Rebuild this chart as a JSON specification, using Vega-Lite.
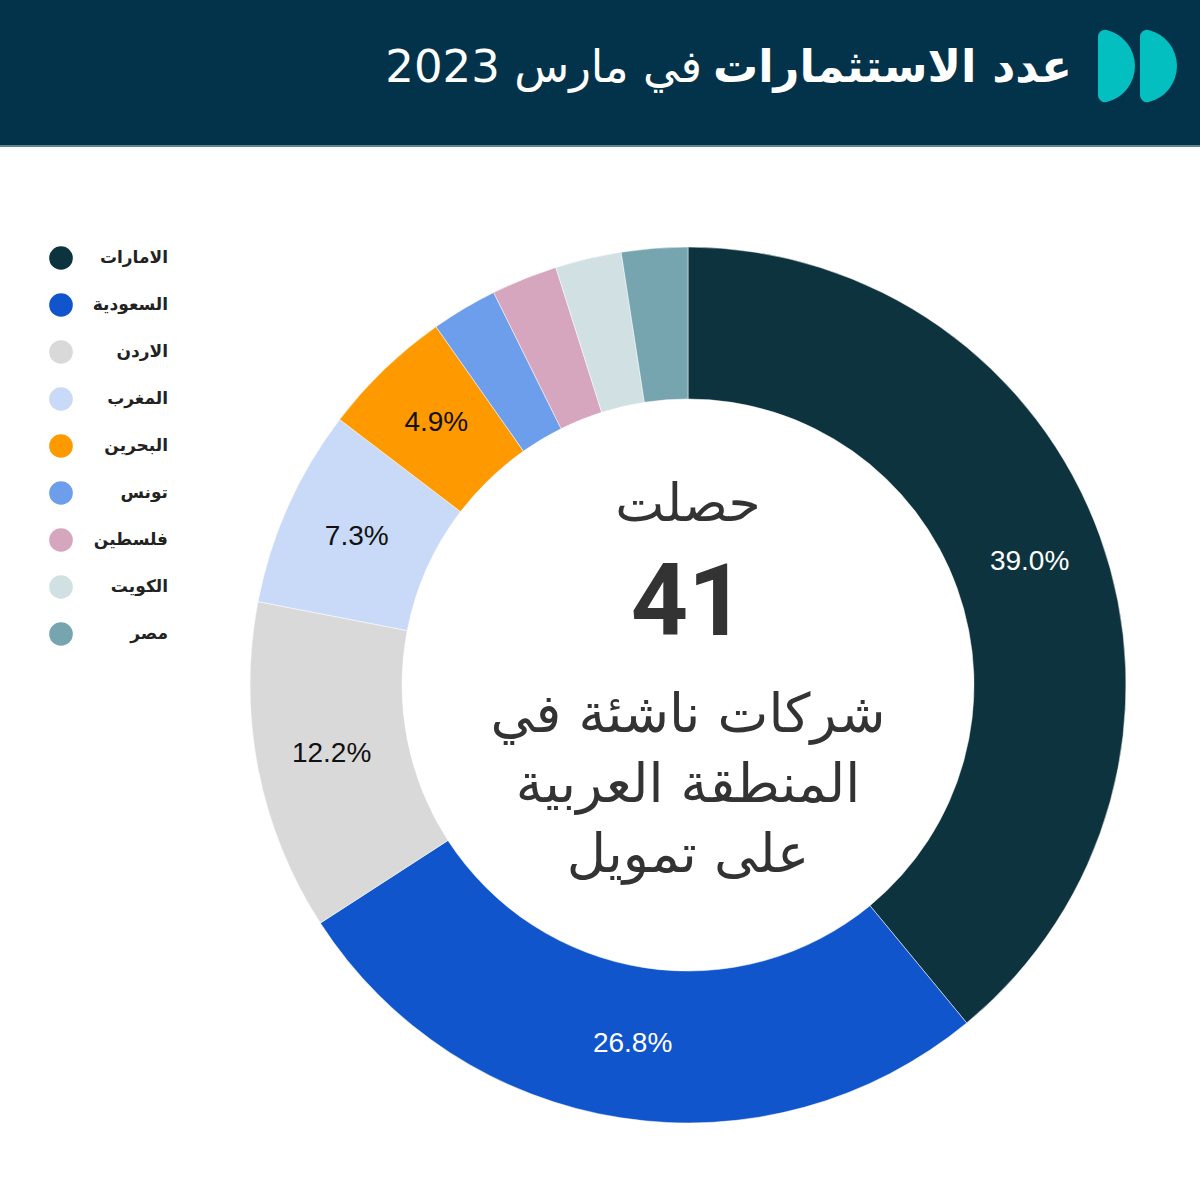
{
  "$schema": "https://vega.github.io/schema/vega-lite/v6.json",
  "width": 1200,
  "height": 1200,
  "autosize": {"type": "fit", "contains": "padding"},
  "padding": 0,
  "background": "#ffffff",
  "config": {"view": {"stroke": null}},
  "data": {
    "values": [
      {"country": "الامارات", "count": 16, "order": 1, "label": "39.0%"},
      {"country": "السعودية", "count": 11, "order": 2, "label": "26.8%"},
      {"country": "الاردن", "count": 5, "order": 3, "label": "12.2%"},
      {"country": "المغرب", "count": 3, "order": 4, "label": "7.3%"},
      {"country": "البحرين", "count": 2, "order": 5, "label": "4.9%"},
      {"country": "تونس", "count": 1, "order": 6, "label": ""},
      {"country": "فلسطين", "count": 1, "order": 7, "label": ""},
      {"country": "الكويت", "count": 1, "order": 8, "label": ""},
      {"country": "مصر", "count": 1, "order": 9, "label": ""}
    ]
  },
  "layer": [
    {
      "data": {"values": [{}]},
      "mark": {"type": "rect", "color": "#03334a"},
      "encoding": {
        "x": {"value": 0}, "x2": {"value": 1200},
        "y": {"value": 0}, "y2": {"value": 145}
      }
    },
    {
      "data": {"values": [{}]},
      "mark": {"type": "rect", "color": "#5f8594"},
      "encoding": {
        "x": {"value": 0}, "x2": {"value": 1200},
        "y": {"value": 145}, "y2": {"value": 147}
      }
    },
    {
      "data": {"values": [{}]},
      "mark": {"type": "arc", "color": "#03bfc0", "theta": 0, "theta2": 3.14159, "radius": 37, "radius2": 0, "cornerRadius": 7},
      "encoding": {"x": {"value": 1098}, "y": {"value": 66}}
    },
    {
      "data": {"values": [{}]},
      "mark": {"type": "arc", "color": "#03bfc0", "theta": 0, "theta2": 3.14159, "radius": 37, "radius2": 0, "cornerRadius": 7},
      "encoding": {"x": {"value": 1140}, "y": {"value": 66}}
    },
    {
      "data": {"values": [{"t": "عدد الاستثمارات"}]},
      "mark": {"type": "text", "align": "right", "baseline": "middle", "font": "DejaVu Sans", "fontSize": 45, "fontWeight": "bold", "color": "#ffffff"},
      "encoding": {"text": {"field": "t"}, "x": {"value": 1072}, "y": {"value": 68}}
    },
    {
      "data": {"values": [{"t": "في مارس 2023"}]},
      "mark": {"type": "text", "align": "right", "baseline": "middle", "font": "DejaVu Sans", "fontSize": 45, "fontWeight": "normal", "color": "#ffffff"},
      "encoding": {"text": {"field": "t"}, "x": {"value": 702}, "y": {"value": 68}}
    },
    {
      "mark": {"type": "arc", "radius": 438, "radius2": 286, "stroke": "#ffffff", "strokeWidth": 0.5},
      "encoding": {
        "x": {"value": 688},
        "y": {"value": 685},
        "theta": {"field": "count", "type": "quantitative", "stack": true},
        "order": {"field": "order", "type": "quantitative"},
        "color": {
          "field": "country",
          "type": "nominal",
          "sort": {"field": "order"},
          "scale": {
            "domain": ["الامارات", "السعودية", "الاردن", "المغرب", "البحرين", "تونس", "فلسطين", "الكويت", "مصر"],
            "range": ["#0d343e", "#1155cc", "#d9d9d9", "#c9daf8", "#ff9900", "#6d9eeb", "#d5a6bd", "#d0e0e3", "#76a5af"]
          },
          "legend": {
            "orient": "none",
            "legendX": 49,
            "legendY": 246,
            "title": null,
            "padding": 0,
            "symbolType": "circle",
            "symbolSize": 560,
            "symbolStrokeWidth": 0,
            "rowPadding": 23,
            "labelAlign": "right",
            "labelOffset": 95,
            "labelFont": "DejaVu Sans",
            "labelFontSize": 17,
            "labelFontWeight": "bold",
            "labelColor": "#222222",
            "labelLimit": 300
          }
        }
      }
    },
    {
      "mark": {"type": "text", "radius": 363, "font": "Liberation Sans", "fontSize": 28, "align": "center", "baseline": "middle"},
      "encoding": {
        "x": {"value": 688},
        "y": {"value": 685},
        "theta": {"field": "count", "type": "quantitative", "stack": true},
        "order": {"field": "order", "type": "quantitative"},
        "text": {"field": "label"},
        "color": {"condition": {"test": "datum.count >= 10", "value": "#ffffff"}, "value": "#111111"}
      }
    },
    {
      "data": {"values": [{"t": "حصلت", "s": 52, "yy": 505}, {"t": "شركات ناشئة في", "s": 54, "yy": 716}, {"t": "المنطقة العربية", "s": 54, "yy": 786}, {"t": "على تمويل", "s": 54, "yy": 856}]},
      "mark": {"type": "text", "align": "center", "baseline": "middle", "font": "DejaVu Sans", "color": "#333333"},
      "encoding": {
        "text": {"field": "t"},
        "x": {"value": 688},
        "y": {"field": "yy", "type": "quantitative", "scale": {"domain": [0, 1200], "range": [0, 1200]}, "axis": null},
        "size": {"field": "s", "type": "quantitative", "scale": null, "legend": null}
      }
    },
    {
      "data": {"values": [{"t": "41"}]},
      "mark": {"type": "text", "align": "center", "baseline": "middle", "font": "Roboto", "fontWeight": "bold", "fontSize": 100, "color": "#333333"},
      "encoding": {
        "text": {"field": "t"},
        "x": {"value": 688},
        "y": {"value": 605}
      }
    }
  ]
}
